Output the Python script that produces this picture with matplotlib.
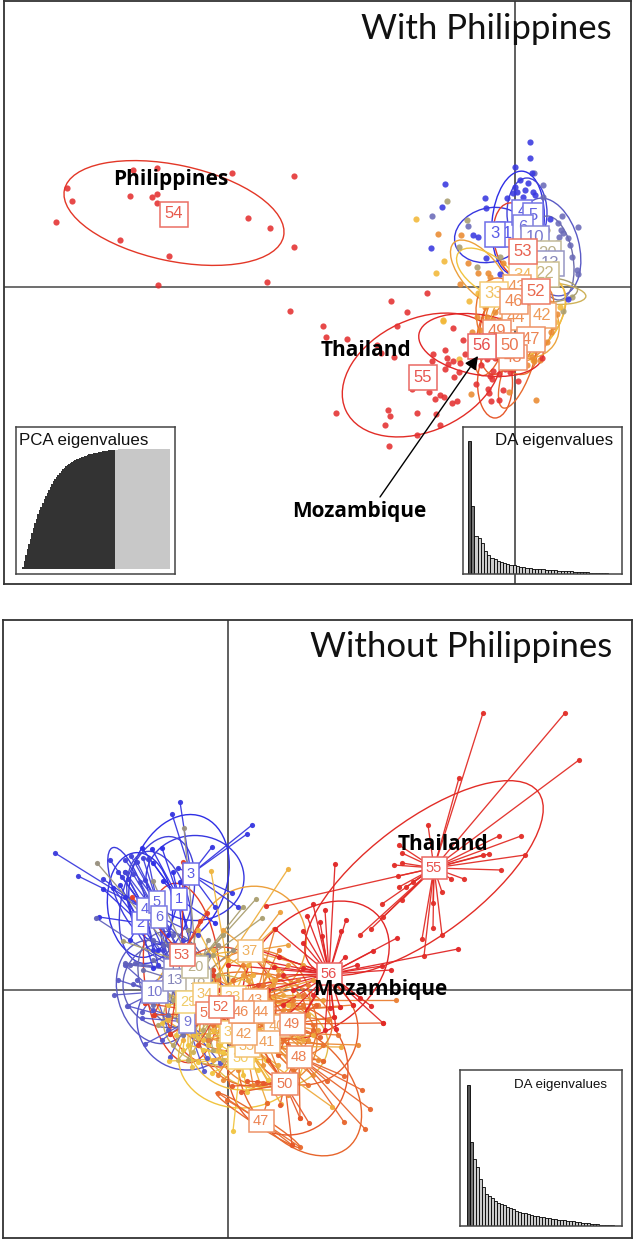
import numpy as np
import matplotlib
matplotlib.use("Agg")
from matplotlib import pyplot as plt
from matplotlib.colors import LinearSegmentedColormap, to_rgb
from matplotlib.patches import Ellipse

W, H = 636, 1240

# discriminant scores, origin at the cross of each panel
top_blue = [(15,145),(15,129),(0,120),(-70,103),(-73,80),(-30,89),(-29,79),(-42,52),(-37,50),(-84,39),(-29,29),(-8,89),
            (5,107),(13,104),(0,100),(18,95),(-2,94),(8,90),(20,92),(17,114),(10,97),(2,95),(35,68),(-15,13),(53,-12)]
top_slate = [(-83,71),(28,102),(28,90),(19,114),(47,71),(63,60),(43,64),(46,57),(44,50),(48,54),(53,49),(62,17),(63,13),
             (-47,61),(55,42),(57,30),(42,44),(37,37)]
top_tan = [(-68,86),(-56,40),(-38,20),(-15,30),(48,-24),(57,-10),(-48,67),(32,57)]
top_gold = [(-99,68),(-71,26),(-79,14),(-72,-34),(-46,-14),(-37,-6),(18,-73),(-72,-33),(-56,-72),(40,-35),(45,-20),(-10,-60),(10,-68)]
top_orange = [(-77,53),(-54,52),(-47,24),(-37,14),(-55,3),(-27,14),(-28,-30),(-22,-33),(-15,-33),(28,-10),(35,-16),(42,-27),
              (38,-40),(32,-55),(-25,10),(-12,24),(-25,-50),(-43,-45),(-35,-43),(25,-73),(-6,-105),(21,-113),(-44,-107),
              (19,-74),(17,-70),(-30,-20),(-20,-25),(36,-45),(-18,-66),(-8,-72),(5,-65),(12,-78),(30,-35),(-38,-30)]
top_red = [(-448,99),(-443,86),(-459,65),(-382,117),(-358,119),(-385,91),(-363,90),(-358,93),(-358,84),(-283,114),(-221,111),
           (-267,69),(-245,59),(-395,47),(-346,31),(-221,40),(-357,2),(-248,5),(-225,-24),
           (-192,-39),(-189,-50),(-168,-52),(-124,-14),(-88,-6),(-108,-25),(-118,-39),(-62,-41),(-138,-58),(-121,-70),(-134,-66),
           (-82,-67),(-83,-74),(-70,-63),(-68,-71),(-62,-74),(-67,-77),(-55,-76),(-70,-82),(-50,-67),(-52,-53),(-61,-90),(-56,-85),
           (-103,-102),(-86,-105),(-75,-108),(-80,-112),(-71,-110),(-63,-116),(-58,-114),(-127,-123),(-125,-129),(-179,-126),
           (-98,-126),(-79,-127),(-130,-138),(-75,-138),(-98,-148),(-126,-159),(-34,-78),(-28,-72),(-20,-71),(-22,-84),(-25,-89),
           (-23,-92),(-16,-87),(-10,-82),(-5,-85),(-2,-82),(-39,-97),(-24,-114),(-27,-102),(-26,-106),(-16,-113),(-12,-103),(3,-94),(27,-71)]

top_ids = [1,3,4,5,6,10,20,13,22,34,43,33,42,44,46,52,53,49,47,48,50,55,56,54]
top_lx = [-8,-20,7,18,8,20,32,35,30,8,2,-21,27,1,-1,21,8,-18,16,-2,-5,-92,-33,-341]
top_ly = [53,53,75,72,60,49,34,24,13,12,0,-7,-28,-30,-14,-4,36,-45,-52,-70,-58,-90,-59,73]

top_eg = [3,1,5,10,13,37,30,25,20,53,49,44,35,40,50,47,48,54,55,56,31,36,45,43]
top_ex = [-25,3,12,35,38,-35,-28,32,25,0,-15,-5,18,5,-20,3,-22,-341,-93,-34,20,10,-10,5]
top_ey = [52,64,74,40,29,14,14,-6,-3,47,-43,-50,-33,-43,-96,-80,-45,74,-88,-58,-30,-38,-35,-25]
top_ew = [72,52,40,58,40,80,70,78,75,42,40,46,50,60,35,27,30,224,168,126,50,70,55,60]
top_eh = [54,104,70,100,85,38,36,22,26,75,90,80,90,70,70,87,90,96,112,60,85,65,90,75]
top_ea = [15,-5,0,15,10,-50,-35,-5,0,10,-10,25,-35,-40,0,-20,-15,-12,25,-10,-30,-35,15,-45]

# bottom panel, one list per population
b1 = [(-48,108),(-65,109),(-75,127),(-66,142),(-76,141),(-86,142),(-13,67),(-55,118),(-60,55),(-40,60),(-45,45),(-35,35)]
b2 = [(-125,101),(-115,102),(-108,105),(-129,73),(-103,93),(-98,50),(-70,40),(-75,22)]
b3 = [(24,165),(19,156),(-56,176),(-48,188),(-16,143),(4,97),(-13,83),(10,83),(-50,122),(-48,95)]
b4 = [(-173,137),(-150,114),(-125,111),(-118,130),(-110,118),(-103,118),(-106,113),(-100,111),(-60,30),(-75,40),(-70,25)]
b5 = [(-85,132),(-80,131),(-97,134),(-91,128),(-103,130),(-83,110),(-50,40),(-55,25),(-62,15),(-42,20)]
b6 = [(-95,116),(-88,108),(-103,118),(-65,40),(-60,30),(-45,50),(-30,55),(-50,12),(-38,25)]
b9 = [(-83,-54),(-66,-50),(-58,-67),(-24,-81),(-21,-68),(-8,-73),(-86,-28),(-75,-20),(-100,-16),(-30,-10),(-60,10),(-20,-50)]
b10 = [(-114,-5),(-110,10),(-103,25),(-91,10),(-95,6),(-101,-16),(-86,-22),(-55,20),(-45,-20),(-60,-40)]
b11 = [(-103,27),(-93,27),(-98,25),(-132,72),(-75,50),(-65,45),(-55,55),(-30,30),(-20,-15),(-70,-10)]
b13 = [(-85,20),(-75,30),(-60,45),(-35,45),(-20,35),(-25,-25),(-60,-25),(-75,-15),(-45,-45)]
b18 = [(-44,162),(-131,127),(-75,109),(-20,50),(-10,45),(5,40),(-40,60),(-15,20),(-35,-20)]
b20 = [(28,91),(15,83),(34,72),(-105,49),(-5,55),(-15,35),(-55,-10),(-5,-5)]
b22 = [(-70,-35),(-55,-55),(-40,-70),(-60,-5),(-15,-60),(-50,-30),(-35,-25),(-10,15),(-30,25),(-45,15),(-5,-40),(-25,-40)]
b25 = [(-50,-70),(-35,-62),(-20,-45),(-45,-30),(0,-45),(-5,-70),(10,-55),(-30,-15),(15,-25),(5,-15),(-15,5),(20,-45)]
b29 = [(-66,-33),(-36,-77),(-60,-15),(-52,-45),(-30,-48),(-20,-55),(-28,-30),(-45,-60)]
b30 = [(5,-141),(-59,-71),(-16,-83),(-40,-55),(-25,-60),(-30,-72),(-8,-55),(-5,-62),(19,-102),(30,-80),(38,-70)]
b31 = [(20,-60),(35,-60),(45,-40),(10,-10),(30,-20),(25,-70),(-10,-55),(40,-90),(50,-100),(15,-85),(-15,-25)]
b32 = [(-20,-30),(-35,-45),(-10,-60),(-15,-40),(25,-35),(30,-55),(20,-75),(-25,-50)]
b33 = [(-17,119),(-30,60),(-15,40),(20,25),(45,10),(60,-15),(30,-40),(-10,-35),(-25,20)]
b34 = [(60,121),(-50,40),(0,30),(25,15),(-60,-30),(-45,-50),(10,-40),(35,-10)]
b35 = [(113,-57),(104,-117),(53,-114),(39,-113),(70,-60),(85,-45),(50,-75),(-15,-70),(-5,-45)]
b36 = [(60,-35),(70,-25),(55,-5),(40,15),(20,10),(-5,-5),(30,-65),(45,-60),(75,-50),(65,-75),(10,-45)]
b37 = [(52,78),(46,61),(60,45),(47,10),(75,25),(-5,60),(5,10),(25,0),(50,20),(0,25)]
b38 = [(70,-5),(85,10),(60,25),(35,30),(15,15),(25,-30),(50,-30),(80,-25),(95,-10),(45,5)]
b39 = [(60,-65),(80,-70),(70,-85),(35,-75),(10,-60),(5,-30),(55,-30),(90,-40),(40,-10)]
b40 = [(75,-60),(80,-50),(30,-20),(65,-15),(20,-50),(95,-71)]
b41 = [(130,-55),(90,-70),(85,-85),(60,-105),(-5,-90),(10,-80),(75,-30),(55,-20)]
b42 = [(-10,-85),(25,-95),(50,-85),(60,-60),(40,-25),(-20,-50),(-10,-25)]
b43 = [(168,-10),(47,61),(51,40),(80,5),(90,-15),(70,10),(15,25),(-10,10)]
b44 = [(125,-15),(100,-30),(65,-10),(60,-45),(10,-60),(-20,-15),(50,15)]
b45 = [(65,-80),(80,-95),(55,-95),(20,-60),(0,-20),(35,5),(75,-15),(95,-55),(110,-45)]
b46 = [(112,-17),(85,-35),(75,-5),(-15,-35),(35,-45),(5,10),(55,-50)]
b47 = [(64,-155),(72,-157),(39,-113),(-1,-110),(-10,-103)]
b48 = [(116,-86),(134,-100),(142,-119),(137,-139),(116,-132),(99,-91),(95,-71),(72,-128),(50,-45),(85,-40)]
b49 = [(92,-47),(74,-43),(155,-33),(106,-27),(40,-5),(30,-55),(88,-15),(50,-65),(60,-55)]
b50 = [(4,-96),(13,-102),(19,-91),(64,-155),(72,-128),(81,-133),(29,-92),(35,-93),(52,-115),(70,-60),(40,-70),(25,-45)]
b51 = [(-58,-44),(-45,-10),(-74,-25),(-83,-13),(-35,-40),(10,-35),(5,-5),(20,-20)]
b52 = [(-45,-40),(-30,-55),(-50,-20),(20,-10),(30,5),(40,-30),(15,-55),(-15,20)]
b53 = [(-45,128),(-21,77),(-28,69),(-96,93),(-74,-25),(-58,-44),(-83,-13),(-15,15),(0,-15)]
b55 = [(255,277),(337,277),(351,230),(231,212),(200,165),(171,145),(271,154),(293,154),(261,136),(255,135),(297,135),(273,120),
       (236,111),(223,111),(214,98),(205,87),(174,137),(174,127),(170,114),(171,103),(178,103),(185,108),(166,125),(174,90),
       (154,86),(155,73),(143,61),(132,55),(38,84),(205,62),(214,55),(194,51),(196,34)]
b56 = [(107,126),(85,86),(97,80),(79,74),(118,70),(113,59),(75,59),(92,68),(94,54),(75,47),(117,33),(145,39),(169,52),(230,41),
       (129,25),(154,24),(163,20),(143,-16),(155,-33),(132,-8),(125,-15),(112,-17),(106,-27),(108,-39),(97,-40),(102,-18),(47,61),
       (75,22),(46,23),(51,33),(15,45),(0,25),(-10,0),(40,0),(55,-15),(65,0),(75,-25),(55,15),(85,-5),(60,-25),(70,-35),(30,30)]

bot_ids = [1,2,3,4,5,6,9,10,11,13,18,20,22,25,29,30,31,32,33,34,35,36,37,38,39,40,41,42,43,44,45,46,47,48,49,50,51,52,53,55,56]
bot_pts = [b1,b2,b3,b4,b5,b6,b9,b10,b11,b13,b18,b20,b22,b25,b29,b30,b31,b32,b33,b34,b35,b36,b37,b38,b39,b40,b41,b42,b43,b44,b45,b46,b47,b48,b49,b50,b51,b52,b53,b55,b56]
bot_lx = [-49,-88,-37,-83,-71,-69,-41,-73,-52,-53,-30,-33,-25,-15,-40,13,5,4,5,-23,19,20,22,35,30,49,39,16,27,33,25,13,33,71,64,57,-20,-7,-46,206,101]
bot_ly = [91,67,116,81,88,73,-32,-2,20,10,10,23,-15,-25,-12,-68,-35,-42,-7,-4,-56,-25,39,-5,-30,-36,-52,-44,-10,-22,-40,-22,-131,-67,-34,-94,-23,-17,35,122,16]
# these sit fully under other boxes in the picture, so no box is drawn for them
bot_covered = [22,25,31,36,38,39,45]

bot_eg = [3,1,4,2,5,6,10,11,9,13,53,52,30,28,37,34,33,43,46,41,56,49,55,48,47,50,44,25,31,45]
bot_ex = [-33,-49,-100,-88,-71,-69,-73,-60,-41,-53,-46,-7,13,40,22,-23,5,27,13,39,88,75,196,72,30,60,60,-10,15,30]
bot_ey = [112,110,100,85,90,85,-2,5,-30,10,17,-17,-68,-55,45,-4,-7,-10,-22,-52,20,-40,112,-100,-130,-80,-30,-30,-50,-40]
bot_ew = [98,95,28,65,70,60,75,90,100,70,76,110,125,120,110,100,120,110,130,100,165,110,286,100,100,120,90,110,110,120]
bot_eh = [85,135,90,105,130,110,105,85,100,100,180,120,100,90,120,80,90,100,80,90,115,110,114,150,10,130,70,90,100,110]
bot_ea = [0,-20,20,5,-15,15,15,0,45,20,5,0,0,0,-30,0,0,0,0,0,40,0,37,40,-33,0,-20,0,0,30]

# inset bars
pca_kept = [.02,.07,.12,.165,.21,.25,.30,.34,.38,.42,.46,.49,.52,.55,.58,.605,.63,.655,.68,.705,.73,.75,.77,.785,.80,.815,.83,.843,.855,.865,
            .875,.883,.89,.898,.905,.913,.92,.925,.93,.935,.94,.945,.95,.954,.957,.96,.964,.967,.97,.973,.976,.978,.98,.983,.985,.987,.988,.989,.99,.99]
pca_rest = [.995,.995,.996,.996,.997,.997,.998,.998,.998,.998,.999,.999,.999,.999,.999,.999,1,1,1,1,1,1,1,1,1,1,1,1,1,1,1,1,1,1,1,1]
da_top = [133,68,38,36,31,23,19,16,15,13,12,11,10,9.5,9,8,7.5,7,6.5,6,5.5,5.2,5,4.7,4.4,4.2,4,3.7,3.5,3.3,3,2.8,2.6,2.4,2.2,2,1.8,1.6,1.4,1.2,1.1,.9,.8,.6,.5,.4,.3]
da_bot = [141,84,67,59,47,39,32,30,28,25,23,22,21,19,18,17,15,14,13,13,12,11,10,10,9,9,8,8,7,7,6,6,6,5,5,5,4,4,3,3,3,2,2,2,1,1,1,1,.7]

pop = LinearSegmentedColormap.from_list("pop", [(0,"#2e2ee6"),(8/55,"#5555cc"),(12/55,"#6e6eaa"),(19/55,"#aa9f70"),
                                                (29/55,"#f2c440"),(36/55,"#ecA03c"),(43/55,"#ea7a30"),(49/55,"#e65a2a"),(1,"#e12626")])
def col(g):
    return pop((g-1)/55)

def soft(c, k):
    r = np.array(to_rgb(c))
    return tuple(r*k+(1-k))

plt.rcParams['font.family'] = ['Liberation Sans', 'DejaVu Sans']
fig = plt.figure(figsize=(W/100, H/100), dpi=100)

def add_ax(x0, y0, x1, y1, **kw):
    return fig.add_axes([x0/W, 1-y1/H, (x1-x0)/W, (y1-y0)/H], **kw)

def panel(x0, y0, x1, y1, cx, cy):
    ax = add_ax(x0, y0, x1, y1)
    ax.set_xlim(x0-cx, x1-cx)
    ax.set_ylim(cy-y1, cy-y0)
    ax.set_xticks([]), ax.set_yticks([])
    for s in ax.spines.values():
        s.set_linewidth(1.3)
        s.set_color("#333333")
    ax.axhline(0, color="#555555", lw=1.2, zorder=1)
    ax.axvline(0, color="#444444", lw=1.2, zorder=1)
    return ax

def ellipses(ax, eg, ex, ey, ew, eh, ea):
    for g, x, y, w, h, a in zip(eg, ex, ey, ew, eh, ea):
        ax.add_patch(Ellipse((x, y), w, h, angle=a, fill=False, ec=col(g), lw=1.0, zorder=3))

def tag(ax, g, x, y, fs):
    c = col(g)
    ax.text(x, y, str(g), fontsize=fs, color=soft(c, 0.82), ha='center', va='center', zorder=6,
            bbox=dict(boxstyle='square,pad=0.3', fc='white', ec=soft(c, 0.72), lw=1.1))

def eigen(ax, vals, cols, title, tx, fs, ymax, xlim):
    ax.bar(np.arange(len(vals)), vals, width=1, color=cols, edgecolor='black', lw=0.6)
    ax.set_xlim(*xlim), ax.set_ylim(0, ymax)
    ax.set_xticks([]), ax.set_yticks([])
    ax.patch.set_alpha(0)
    for s in ax.spines.values():
        s.set_color("#444444")
        s.set_linewidth(1.1)
    ax.text(tx, 0.905, title, transform=ax.transAxes, fontsize=fs, ha='right', va='center', color='#111111')

def bold(ax, x, y, s):
    ax.text(x, y, s, fontsize=15, fontweight='bold', family='Open Sans', ha='center', va='center', color='black', zorder=8)

# with Philippines
ax1 = panel(4, 1, 631, 584, 515, 287)
ellipses(ax1, top_eg, top_ex, top_ey, top_ew, top_eh, top_ea)
for pts, c in [(top_slate,"#6a6ab8"),(top_tan,"#a89c6e"),(top_gold,"#f2b838"),(top_orange,"#ea8a30"),(top_blue,"#3838e0"),(top_red,"#e43030")]:
    a = np.array(pts)
    ax1.scatter(a[:,0], a[:,1], s=20, color=c, alpha=0.88, lw=0, zorder=4)
for g, x, y in zip(top_ids, top_lx, top_ly):
    tag(ax1, g, x, y, 12)
bold(ax1, -344, 107, "Philippines")
bold(ax1, -149, -63, "Thailand")
bold(ax1, -156, -224, "Mozambique")
ax1.annotate('', xy=(-37,-69), xytext=(-135,-210), zorder=7,
             arrowprops=dict(arrowstyle='-|>', color='black', lw=1.0, mutation_scale=20, shrinkA=0, shrinkB=0))
ax1.text(97, 258, "With Philippines", fontsize=25, family='Lato', ha='right', va='center', color='#111111', zorder=8)

ax = add_ax(16, 427, 175, 574, facecolor='white')
vals = pca_kept+pca_rest
ax.bar(np.arange(len(vals)), vals, width=1, color=['#333333']*len(pca_kept)+['#c8c8c8']*len(pca_rest), lw=0)
ax.set_xlim(-4.37, 98.7), ax.set_ylim(-0.042, 1.183)
ax.set_xticks([]), ax.set_yticks([])
for s in ax.spines.values():
    s.set_color("#444444")
    s.set_linewidth(1.1)
ax.text(0.02, 0.905, "PCA eigenvalues", transform=ax.transAxes, fontsize=12.2, ha='left', va='center', color='#111111')

ax = add_ax(463, 427, 622, 574)
eigen(ax, da_top, ['#555555','#777777']+['#cccccc']*(len(da_top)-2), "DA eigenvalues", 0.945, 12.2, 147, (-2.06, 47.75))

# without Philippines
ax2 = panel(3, 620, 632, 1238, 228, 990)
ellipses(ax2, bot_eg, bot_ex, bot_ey, bot_ew, bot_eh, bot_ea)
for g, pts, lx, ly in zip(bot_ids, bot_pts, bot_lx, bot_ly):
    a = np.array(pts)
    c = col(g)
    for x, y in pts:
        ax2.plot([lx, x], [ly, y], color=c, lw=0.95, alpha=0.95, zorder=3, solid_capstyle='round')
    ax2.scatter(a[:,0], a[:,1], s=14, color=c, alpha=0.95, lw=0, zorder=4)
for g, x, y in zip(bot_ids, bot_lx, bot_ly):
    if g not in bot_covered:
        tag(ax2, g, x, y, 10.5)
bold(ax2, 215, 146, "Thailand")
bold(ax2, 152, 0, "Mozambique")
ax2.text(384, 343, "Without Philippines", fontsize=25, family='Lato', ha='right', va='center', color='#111111', zorder=8)

ax = add_ax(460, 1070, 622, 1226, facecolor='white')
eigen(ax, da_bot, ['#555555','#777777']+['#cccccc']*(len(da_bot)-2), "DA eigenvalues", 0.91, 9.6, 156, (-2.8, 51.2))

fig.savefig("out.png", dpi=100)
